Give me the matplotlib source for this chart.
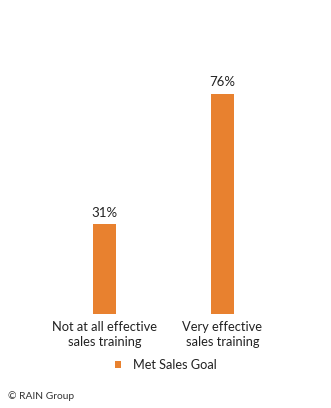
import matplotlib.pyplot as plt
from matplotlib.patches import Patch

categories = ["Not at all effective\nsales training", "Very effective\nsales training"]
met_sales_goal = [31, 76]
series_name = "Met Sales Goal"

ORANGE = "#E8812F"
TEXT = "#222222"
plt.rcParams["font.family"] = ["Lato", "DejaVu Sans"]

fig = plt.figure(figsize=(3.31, 4.08), dpi=100)
ax = fig.add_axes([0, 94 / 408, 1, 290 / 408])

x = list(range(len(categories)))
bars = ax.bar(x, met_sales_goal, width=0.195, color=ORANGE)
ax.set_xlim(-104.5 / 118, (331 - 104.5) / 118)
ax.set_ylim(0, 100)

for rect, v in zip(bars, met_sales_goal):
    ax.annotate(f"{v}%", (rect.get_x() + rect.get_width() / 2, v),
                xytext=(0, 4), textcoords="offset points",
                ha="center", va="bottom", fontsize=9.5, color=TEXT)

ax.set_xticks(x)
ax.set_xticklabels(categories, fontsize=9.3, color=TEXT, linespacing=1.3)
ax.tick_params(axis="x", length=0, pad=5)
ax.set_yticks([])
for s in ax.spines.values():
    s.set_visible(False)

handle = Patch(facecolor=ORANGE, edgecolor="none")
fig.legend([handle], [series_name], loc="center", bbox_to_anchor=(166 / 331, 1 - 365 / 408),
           frameon=False, fontsize=9.2, handlelength=0.45, handleheight=0.45,
           handletextpad=1.0, labelcolor=TEXT)

fig.text(8 / 331, 1 - 396 / 408, "© RAIN Group", fontsize=7.4, color="#333333",
         ha="left", va="center")

fig.savefig("out.png", dpi=100)
